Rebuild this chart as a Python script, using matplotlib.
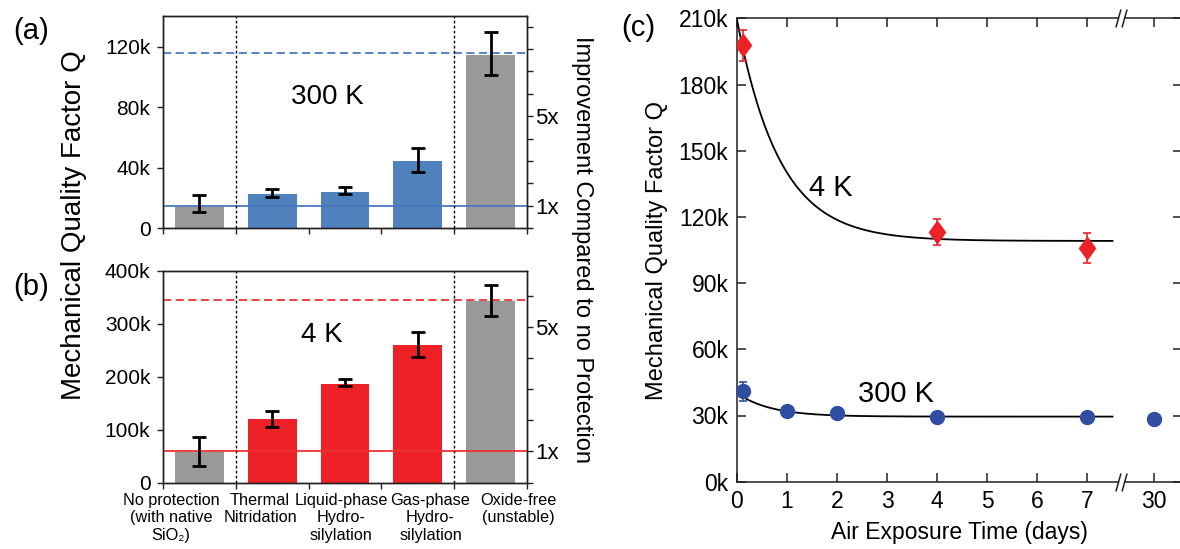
import numpy as np
import matplotlib
matplotlib.use("Agg")
import matplotlib.pyplot as plt
from matplotlib.markers import MarkerStyle
from matplotlib.transforms import Affine2D, blended_transform_factory
from matplotlib.path import Path

plt.rcParams['font.family'] = ['Liberation Sans', 'DejaVu Sans']

# ---------------- data ----------------
categories = ["No protection\n(with native\nSiO\u2082)", "Thermal\nNitridation",
              "Liquid-phase\nHydro-\nsilylation", "Gas-phase\nHydro-\nsilylation",
              "Oxide-free\n(unstable)"]
bar_kind = ["gray", "treated", "treated", "treated", "gray"]

# 300 K (panel a)
q300 = [14.8e3, 22.6e3, 24.2e3, 44.2e3, 114.6e3]
q300_lo = [10.6e3, 20.9e3, 22.8e3, 37.4e3, 101.4e3]
q300_hi = [22.0e3, 25.9e3, 27.3e3, 53.2e3, 129.4e3]
ref300 = 14.8e3          # 1x reference (no protection)
best300 = 115.5e3        # dashed line (oxide-free)

# 4 K (panel b)
q4 = [58.0e3, 120.0e3, 186.8e3, 259.7e3, 342.0e3]
q4_lo = [31.4e3, 105.0e3, 182.4e3, 237.0e3, 314.5e3]
q4_hi = [85.5e3, 134.6e3, 195.6e3, 284.0e3, 373.0e3]
ref4 = 58.8e3
best4 = 344.0e3

# panel c : air exposure
days_4k = [0.12, 4, 7]
q_4k = [197.7e3, 113.2e3, 106.1e3]
q_4k_lo = [190.5e3, 107.1e3, 99.3e3]
q_4k_hi = [204.9e3, 118.9e3, 112.5e3]

days_300k = [0.12, 1, 2, 4, 7, 30]
q_300k = [40.9e3, 32.0e3, 31.1e3, 29.5e3, 29.3e3, 28.4e3]
q_300k_lo = [36.7e3, 32.0e3, 31.1e3, 29.5e3, 29.3e3, 28.4e3]
q_300k_hi = [45.3e3, 32.0e3, 31.1e3, 29.5e3, 29.3e3, 28.4e3]

# exponential-decay fits drawn in panel c (plateau, amplitude, time constant in days)
fit_4k = (109.1e3, 100.9e3, 0.85)
fit_300k = (29.5e3, 10.7e3, 0.67)
fit_end_day = 7.5

yticks_a = [0, 40e3, 80e3, 120e3]
ytick_labels_a = ["0", "40k", "80k", "120k"]
yticks_b = [0, 100e3, 200e3, 300e3, 400e3]
ytick_labels_b = ["0", "100k", "200k", "300k", "400k"]
yticks_c = [0, 30e3, 60e3, 90e3, 120e3, 150e3, 180e3, 210e3]
ytick_labels_c = ["0k", "30k", "60k", "90k", "120k", "150k", "180k", "210k"]
xtick_days_c = [0, 1, 2, 3, 4, 5, 6, 7, 30]
xtick_labels_c = ["0", "1", "2", "3", "4", "5", "6", "7", "30"]

# ---------------- style / layout ----------------
W, H = 1180, 549
GRAY = "#999999"
BLUE = "#4F81BD"
BLUE_LINE = "#4A78C0"
RED = "#ED2126"
RED_LINE = "#EE3135"
DARK = "#231F20"
BLUE_PT = "#2F4EA3"
BREAK_POS = 7.68
POS_30 = 8.32


def rect(l, t, r, b):
    return [l / W, 1 - b / H, (r - l) / W, (b - t) / H]


def day_pos(d):
    return d if d <= fit_end_day else POS_30


fig = plt.figure(figsize=(W / 100, H / 100), dpi=100)

ax_a = fig.add_axes(rect(163, 16.2, 527, 228.3))
ax_b = fig.add_axes(rect(163, 270.7, 527, 482.5))
ax_c = fig.add_axes(rect(736.7, 18.3, 1181.5, 481.7))

x = np.arange(len(categories)) + 0.5


def bar_panel(ax, vals, lo, hi, ref, best, color, line_color, ylim, yt, ytl):
    cols = [GRAY if k == "gray" else color for k in bar_kind]
    ax.bar(x, vals, width=0.67, color=cols, zorder=2)
    vals = np.array(vals)
    ax.errorbar(x, vals, yerr=[vals - np.array(lo), np.array(hi) - vals], fmt='none',
                ecolor='black', elinewidth=2.0, capsize=5, capthick=2.0, zorder=4)
    ax.axhline(ref, color=line_color, lw=1.3, zorder=3)
    ax.axhline(best, color=line_color, lw=1.3, ls=(0, (4.5, 2.5)), zorder=3)
    for xv in (1, 4):
        ax.axvline(xv, color='black', lw=1.0, ls=(0, (2, 1.6)), zorder=3)
    ax.set_xlim(0, 5)
    ax.set_ylim(*ylim)
    ax.set_yticks(yt)
    ax.set_yticklabels(ytl)
    ax.set_xticks(range(6))
    ax.set_xticklabels([])
    ax.tick_params(axis='both', direction='out', length=4, width=1.0, color=DARK,
                   labelsize=15, pad=5)
    for s in ax.spines.values():
        s.set_color(DARK)
        s.set_linewidth(1.0)
    tw = ax.twinx()
    nmax = int(np.floor(ylim[1] / ref))
    tw.set_ylim(0, ylim[1] / ref)
    tw.set_yticks(range(nmax + 1))
    tw.set_yticklabels(["1x" if i == 1 else "5x" if i == 5 else "" for i in range(nmax + 1)])
    tw.tick_params(axis='y', direction='out', length=4, width=1.0, color=DARK,
                   labelsize=16, pad=2)
    for s in tw.spines.values():
        s.set_color(DARK)
        s.set_linewidth(1.0)
    return tw


bar_panel(ax_a, q300, q300_lo, q300_hi, ref300, best300, BLUE, BLUE_LINE,
          (0, 140e3), yticks_a, ytick_labels_a)
bar_panel(ax_b, q4, q4_lo, q4_hi, ref4, best4, RED, RED_LINE,
          (0, 400e3), yticks_b, ytick_labels_b)

fig.text(327 / W, 1 - 97.5 / H, "300 K", fontsize=20, ha='center', va='center')
fig.text(321.5 / W, 1 - 335 / H, "4 K", fontsize=20, ha='center', va='center')

# category labels (placed manually under panel b)
label_x_px = [171, 260, 341, 430.5, 518]
for lx, lab in zip(label_x_px, categories):
    fig.text(lx / W, 1 - 493 / H, lab, fontsize=11.7, ha='center', va='top', linespacing=1.2)

fig.text(74 / W, 1 - 225 / H, "Mechanical Quality Factor Q", fontsize=20, rotation=90,
         ha='center', va='center')
fig.text(581.7 / W, 1 - 249 / H, "Improvement Compared to no Protection", fontsize=17,
         rotation=270, ha='center', va='center')

fig.text(31.6 / W, 1 - 31 / H, "(a)", fontsize=21, ha='center', va='center')
fig.text(31.6 / W, 1 - 286.7 / H, "(b)", fontsize=21, ha='center', va='center')
fig.text(638 / W, 1 - 27.5 / H, "(c)", fontsize=21, ha='center', va='center')

# ---------------- panel c ----------------
t = np.linspace(0, fit_end_day, 400)
for (pl, amp, tau) in (fit_4k, fit_300k):
    ax_c.plot(t, pl + amp * np.exp(-t / tau), color='black', lw=1.3, zorder=3)

dpos4 = [day_pos(d) for d in days_4k]
q4a = np.array(q_4k)
ax_c.errorbar(dpos4, q4a, yerr=[q4a - np.array(q_4k_lo), np.array(q_4k_hi) - q4a], fmt='none',
              ecolor=RED, elinewidth=1.2, capsize=3, capthick=1.2, zorder=4)
diamond = MarkerStyle('D', transform=Affine2D().scale(0.75, 1.0))
ax_c.plot(dpos4, q4a, ls='none', marker=diamond, ms=11, color=RED, mec=RED, zorder=5)

dpos3 = [day_pos(d) for d in days_300k]
q3a = np.array(q_300k)
ax_c.errorbar(dpos3, q3a, yerr=[q3a - np.array(q_300k_lo), np.array(q_300k_hi) - q3a], fmt='none',
              ecolor=BLUE_PT, elinewidth=1.2, capsize=3, capthick=1.2, zorder=4)
ax_c.plot(dpos3, q3a, ls='none', marker='o', ms=10, color=BLUE_PT, mec=BLUE_PT, zorder=5)

ax_c.set_xlim(0, (1181.5 - 736.7) / 50.1)
ax_c.set_ylim(0, 210e3)
ax_c.set_yticks(yticks_c)
ax_c.set_yticklabels(ytick_labels_c)
ax_c.set_xticks([day_pos(d) for d in xtick_days_c])
ax_c.set_xticklabels(xtick_labels_c)
ax_c.tick_params(axis='both', direction='in', length=6.5, width=1.1, color=DARK,
                 labelsize=16.5, top=True, right=True, pad=6)
for s in ax_c.spines.values():
    s.set_color(DARK)
    s.set_linewidth(1.1)
ax_c.set_xlabel("Air Exposure Time (days)", fontsize=16.5, labelpad=6)
ax_c.set_ylabel("Mechanical Quality Factor Q", fontsize=17, labelpad=8)

fig.text(830.7 / W, 1 - 187.5 / H, "4 K", fontsize=21, ha='center', va='center')
fig.text(896 / W, 1 - 394 / H, "300 K", fontsize=21, ha='center', va='center')

# axis-break marks on top and bottom spines
bt = blended_transform_factory(ax_c.transData, ax_c.transAxes)
slash_path = Path([(-0.62, -1), (-0.06, 1), (0.06, -1), (0.62, 1)],
                  [Path.MOVETO, Path.LINETO, Path.MOVETO, Path.LINETO])
for yy in (0, 1):
    ax_c.plot([BREAK_POS], [yy], transform=bt, marker='s', ms=4.5, color='white',
              mew=0, clip_on=False, zorder=6)
    ax_c.plot([BREAK_POS], [yy], transform=bt, marker=slash_path, ms=13, color=DARK,
              mew=1.1, mfc='none', clip_on=False, zorder=7)

fig.savefig("out.png", dpi=100)
